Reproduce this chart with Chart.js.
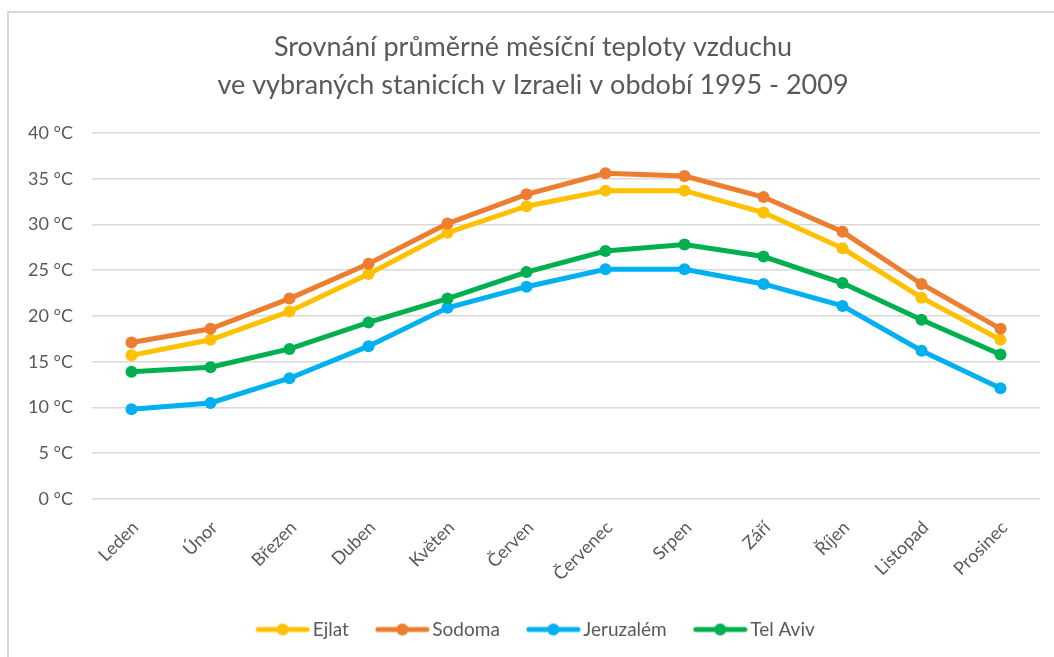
<!DOCTYPE html>
<html>
<head>
<meta charset="utf-8">
<script src="https://cdn.jsdelivr.net/npm/chart.js@4"></script>
<style>
  html, body { margin: 0; padding: 0; background: #fff; }
  #wrap { position: relative; width: 1054px; height: 657px; }
  #frame {
    position: absolute; left: 7px; top: 11px; right: 0; bottom: 0;
    border-left: 2px solid #d9d9d9; border-top: 2px solid #d9d9d9;
    pointer-events: none;
  }
</style>
</head>
<body>
<div id="wrap">
  <canvas id="tempChart" width="1054" height="657"></canvas>
  <div id="frame"></div>
</div>
<script>
// values (°C)
const months = ["Leden", "Únor", "Březen", "Duben", "Květen", "Červen",
                "Červenec", "Srpen", "Září", "Říjen", "Listopad", "Prosinec"];
const ejlat     = [15.7, 17.4, 20.5, 24.6, 29.1, 32.0, 33.7, 33.7, 31.3, 27.4, 22.0, 17.4];
const sodoma    = [17.1, 18.6, 21.9, 25.7, 30.1, 33.3, 35.6, 35.3, 33.0, 29.2, 23.5, 18.6];
const jeruzalem = [9.8, 10.5, 13.2, 16.7, 20.9, 23.2, 25.1, 25.1, 23.5, 21.1, 16.2, 12.1];
const telAviv   = [13.9, 14.4, 16.4, 19.3, 21.9, 24.8, 27.1, 27.8, 26.5, 23.6, 19.6, 15.8];
const yTicks = [0, 5, 10, 15, 20, 25, 30, 35, 40];
const unit = " °C";

const textColor = "#595959";
const fontFamily = "Lato, 'Open Sans', sans-serif";

// legend marker: line with dot in the middle, sitting at the right side of the canvas
function legendMarker(color) {
  const c = document.createElement("canvas");
  c.width = 66; c.height = 14;
  const g = c.getContext("2d");
  g.strokeStyle = color;
  g.lineWidth = 5;
  g.lineCap = "round";
  g.beginPath(); g.moveTo(14, 7); g.lineTo(63, 7); g.stroke();
  g.fillStyle = color;
  g.beginPath(); g.arc(38.5, 7, 6, 0, Math.PI * 2); g.fill();
  return c;
}

function series(label, data, color, order) {
  return {
    label: label,
    data: data,
    borderColor: color,
    backgroundColor: color,
    borderWidth: 5,
    pointRadius: 6,
    pointBorderWidth: 0,
    pointHoverRadius: 6,
    tension: 0,
    order: order,
    marker: legendMarker(color)
  };
}

document.addEventListener("DOMContentLoaded", () => {
  const ctx = document.getElementById("tempChart");

  new Chart(ctx, {
    type: 'line',
    data: {
      labels: months,
      datasets: [
        series("Ejlat", ejlat, "#FFC000", 4),
        series("Sodoma", sodoma, "#ED7D31", 3),
        series("Jeruzalém", jeruzalem, "#00B0F0", 2),
        series("Tel Aviv", telAviv, "#00B050", 1)
      ]
    },
    options: {
      responsive: false,
      animation: false,
      layout: { padding: { left: 26, right: 14, top: 0, bottom: 8 } },
      plugins: {
        title: {
          display: true,
          text: ["Srovnání průměrné měsíční teploty vzduchu",
                 "ve vybraných stanicích v Izraeli v období 1995 - 2009"],
          color: textColor,
          font: { family: fontFamily, size: 27, weight: 'normal', lineHeight: 1.407 },
          padding: { top: 28, bottom: 29 }
        },
        legend: {
          position: 'bottom',
          labels: {
            color: textColor,
            font: { family: fontFamily, size: 19 },
            usePointStyle: true,
            pointStyleWidth: 52,
            padding: 22,
            generateLabels: (chart) => {
              const items = Chart.defaults.plugins.legend.labels.generateLabels(chart);
              items.sort((a, b) => a.datasetIndex - b.datasetIndex);
              items.forEach(it => {
                it.pointStyle = chart.data.datasets[it.datasetIndex].marker;
              });
              return items;
            }
          }
        },
        tooltip: { enabled: false }
      },
      scales: {
        x: {
          offset: true,
          grid: { display: false },
          border: { display: false },
          ticks: {
            color: textColor,
            font: { family: fontFamily, size: 18 },
            maxRotation: 45,
            minRotation: 45,
            padding: 10,
            labelOffset: 4,
            autoSkip: false
          },
          afterFit: (scale) => { scale.height = 99; }
        },
        y: {
          min: 0,
          max: 40,
          afterBuildTicks: (scale) => { scale.ticks = yTicks.map(v => ({ value: v })); },
          grid: { color: "#d9d9d9", lineWidth: 1.5, drawTicks: false },
          border: { display: false },
          ticks: {
            color: textColor,
            font: { family: fontFamily, size: 18 },
            padding: 19,
            callback: (v) => v + unit
          },
          afterFit: (scale) => { scale.width = 66; }
        }
      }
    }
  });
});
</script>
</body>
</html>
